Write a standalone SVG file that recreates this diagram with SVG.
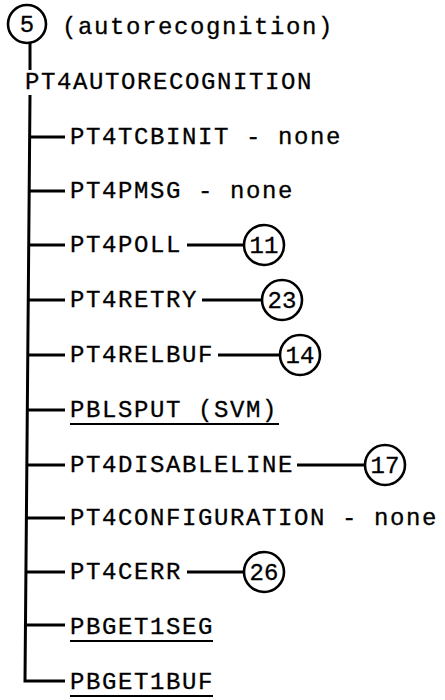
<svg xmlns="http://www.w3.org/2000/svg" width="445" height="700" viewBox="0 0 445 700">
<style>
text{font-family:"Liberation Mono","Courier New",monospace;font-size:24px;letter-spacing:1.6px;fill:#000;stroke:#000;stroke-width:0.3}
.num{text-anchor:middle;letter-spacing:0}
.ln{stroke:#000;stroke-width:3;fill:none}
.c{stroke:#000;stroke-width:2.6;fill:#fff}
.u{stroke:#000;stroke-width:2}
</style>
<rect width="445" height="700" fill="#fff"/>
<g id="connectors">
<line class="ln" x1="30" y1="43" x2="30" y2="70"/>
<path class="ln" d="M30,95 L25,681 H65"/>
<line class="ln" x1="29.6" y1="137" x2="65" y2="137"/>
<line class="ln" x1="29.1" y1="191" x2="65" y2="191"/>
<line class="ln" x1="28.7" y1="245" x2="65" y2="245"/>
<line class="ln" x1="28.2" y1="300" x2="65" y2="300"/>
<line class="ln" x1="27.7" y1="355" x2="65" y2="355"/>
<line class="ln" x1="27.3" y1="410" x2="65" y2="410"/>
<line class="ln" x1="26.8" y1="465" x2="65" y2="465"/>
<line class="ln" x1="26.4" y1="518" x2="65" y2="518"/>
<line class="ln" x1="25.9" y1="572" x2="65" y2="572"/>
<line class="ln" x1="25.5" y1="625" x2="65" y2="625"/>
<line class="ln" x1="187" y1="245" x2="244" y2="245"/>
<line class="ln" x1="202" y1="300" x2="262" y2="300"/>
<line class="ln" x1="218" y1="355" x2="280" y2="355"/>
<line class="ln" x1="297" y1="465" x2="365" y2="465"/>
<line class="ln" x1="187" y1="572" x2="244" y2="572"/>
</g>
<g id="n5"><circle class="c" cx="27" cy="24" r="19"/><text class="num" x="27" y="32">5</text></g>
<g id="autorecog-label"><text x="62" y="34">(autorecognition)</text></g>
<g id="root"><text x="25" y="89">PT4AUTORECOGNITION</text></g>
<g id="tcbinit"><text x="70" y="144">PT4TCBINIT - none</text></g>
<g id="pmsg"><text x="70" y="198">PT4PMSG - none</text></g>
<g id="poll"><text x="70" y="252">PT4POLL</text></g>
<g id="n11"><circle class="c" cx="264" cy="245" r="20"/><text class="num" x="264" y="253">11</text></g>
<g id="retry"><text x="70" y="307">PT4RETRY</text></g>
<g id="n23"><circle class="c" cx="282" cy="300" r="20"/><text class="num" x="282" y="308">23</text></g>
<g id="relbuf"><text x="70" y="362">PT4RELBUF</text></g>
<g id="n14"><circle class="c" cx="300" cy="355" r="20"/><text class="num" x="300" y="363">14</text></g>
<g id="pblsput"><text x="70" y="417">PBLSPUT (SVM)</text><line class="u" x1="70" y1="424" x2="279" y2="424"/></g>
<g id="disableline"><text x="70" y="472">PT4DISABLELINE</text></g>
<g id="n17"><circle class="c" cx="385" cy="465" r="20"/><text class="num" x="385" y="473">17</text></g>
<g id="configuration"><text x="70" y="525">PT4CONFIGURATION - none</text></g>
<g id="cerr"><text x="70" y="579">PT4CERR</text></g>
<g id="n26"><circle class="c" cx="264" cy="572" r="20"/><text class="num" x="264" y="580">26</text></g>
<g id="pbget1seg"><text x="70" y="634">PBGET1SEG</text><line class="u" x1="70" y1="641" x2="213" y2="641"/></g>
<g id="pbget1buf"><text x="70" y="689">PBGET1BUF</text><line class="u" x1="70" y1="696" x2="213" y2="696"/></g>
</svg>
